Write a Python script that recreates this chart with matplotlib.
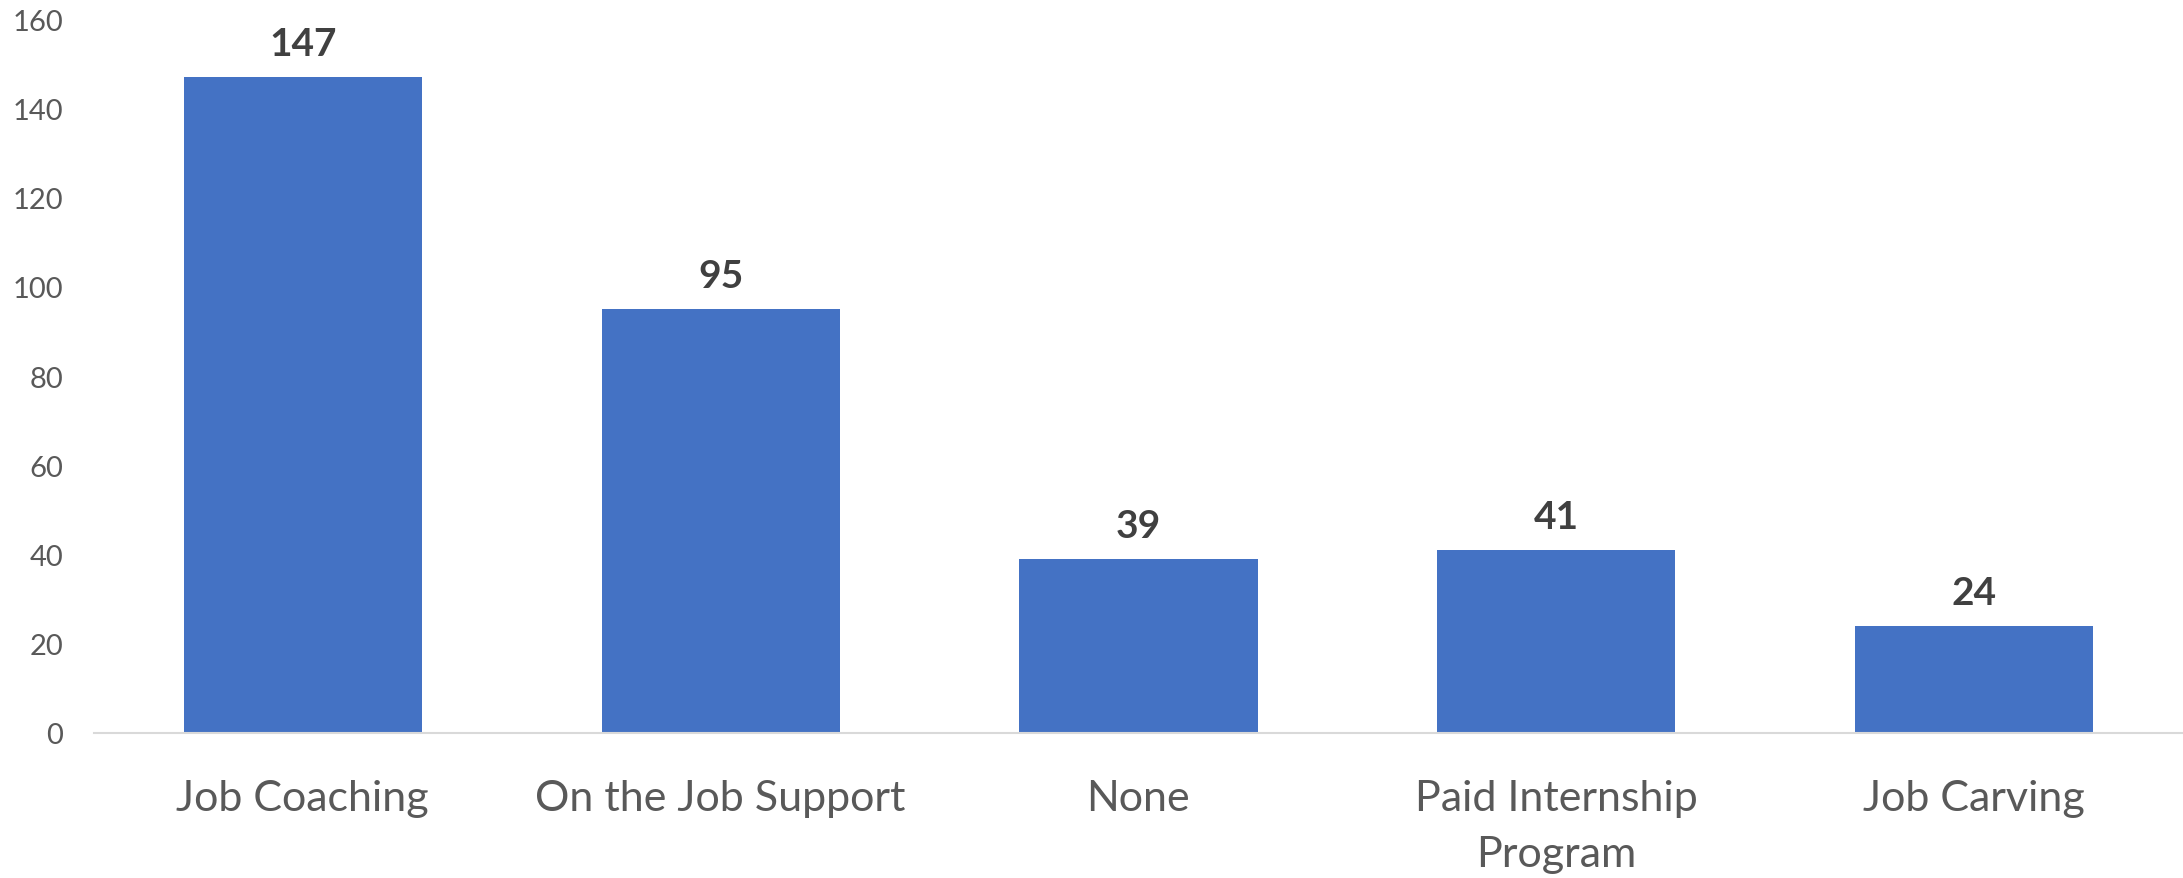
import matplotlib.pyplot as plt

# Supports reported
categories = ["Job Coaching", "On the Job Support", "None",
              "Paid Internship\nProgram", "Job Carving"]
counts = [147, 95, 39, 41, 24]
yticks = [0, 20, 40, 60, 80, 100, 120, 140, 160]

bar_color = "#4472C4"
text_color = "#595959"

plt.rcParams["font.family"] = ["Lato", "DejaVu Sans"]

fig = plt.figure(figsize=(21.83, 8.79), dpi=100)
ax = fig.add_axes([0.043, 0.165, 0.957, 0.812])

x = range(len(categories))
bars = ax.bar(x, counts, width=0.57, color=bar_color, zorder=2)

for b, v in zip(bars, counts):
    ax.annotate(str(v), (b.get_x() + b.get_width() / 2, v),
                xytext=(0, 24), textcoords="offset points",
                ha="center", va="center", fontsize=28,
                fontweight="bold", color="#404040")

ax.set_xlim(-0.5, len(categories) - 0.5)
ax.set_ylim(0, 160)
ax.set_yticks(yticks)
ax.set_xticks(list(x))
ax.set_xticklabels(categories, fontsize=31, color=text_color,
                   linespacing=1.58)
ax.tick_params(axis="y", length=0, pad=22, labelsize=21, labelcolor=text_color)
ax.tick_params(axis="x", length=0, pad=33)

for s in ["top", "right", "left"]:
    ax.spines[s].set_visible(False)
ax.spines["bottom"].set_color("#D9D9D9")
ax.spines["bottom"].set_linewidth(1.5)

fig.savefig("out.png", dpi=100)
